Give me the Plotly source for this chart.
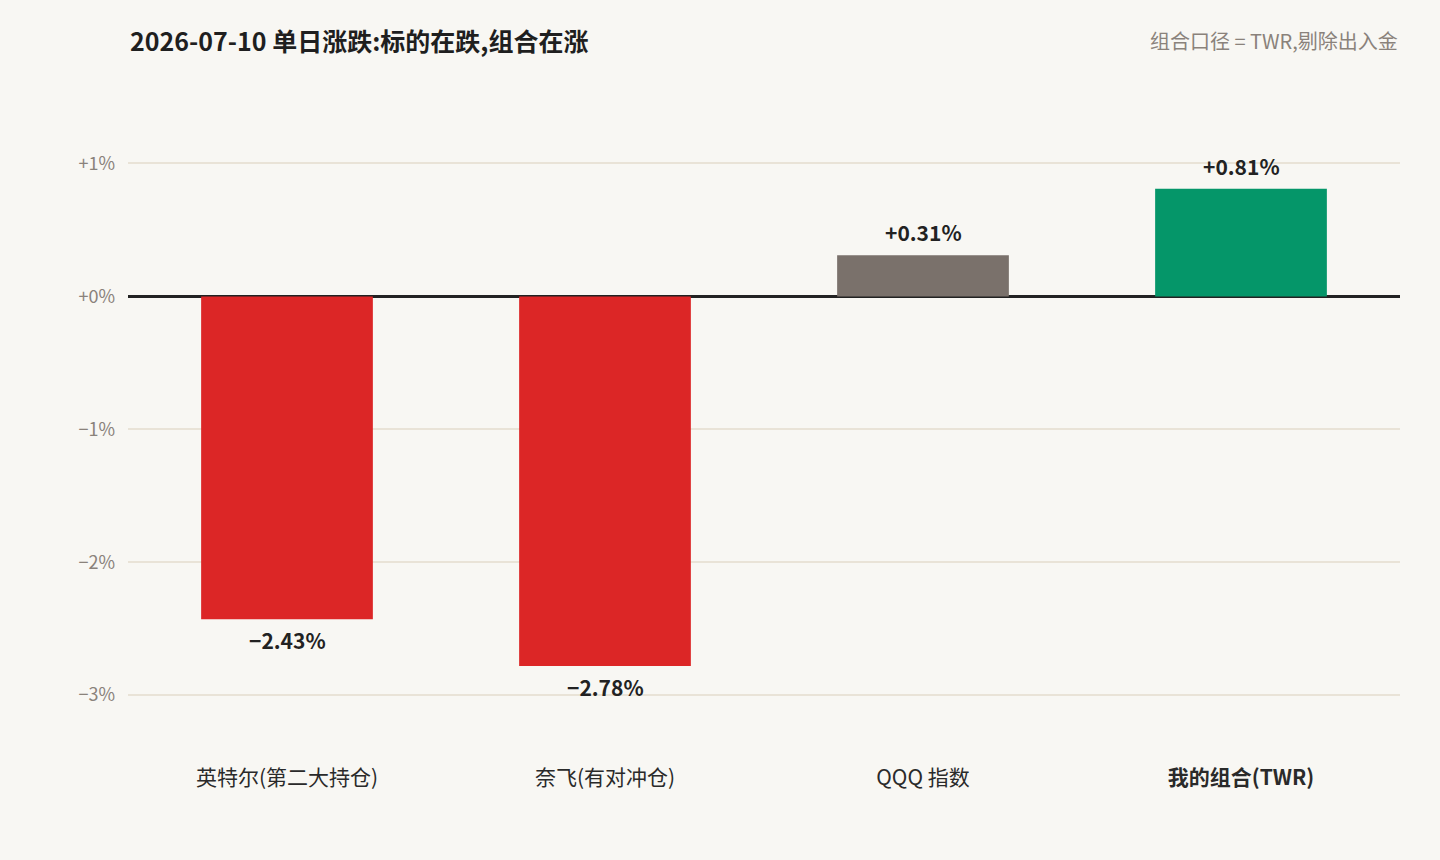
import plotly.graph_objects as go

categories = ["英特尔(第二大持仓)", "奈飞(有对冲仓)", "QQQ 指数", "我的组合(TWR)"]
category_labels = ["英特尔(第二大持仓)", "奈飞(有对冲仓)", "QQQ 指数", "<b>我的组合(TWR)</b>"]
daily_change = [-2.43, -2.78, 0.31, 0.81]
bar_colors = ["#DC2626", "#DC2626", "#7A716B", "#059669"]
y_tick_vals = [1, 0, -1, -2, -3]
y_tick_text = ["+1%", "+0%", "\u22121%", "\u22122%", "\u22123%"]

title_text = "2026-07-10 单日涨跌:标的在跌,组合在涨"
note_text = "组合口径 = TWR,剔除出入金"

def fmt(v):
    s = f"{v:+.2f}%"
    return s.replace("-", "\u2212")

labels = [fmt(v) for v in daily_change]

BG = "#F8F7F3"
FONT = "Noto Sans CJK SC"

fig = go.Figure()
fig.add_trace(go.Bar(
    x=categories,
    y=daily_change,
    marker=dict(color=bar_colors, line=dict(width=0)),
    hoverinfo="skip",
))

value_annotations = [
    dict(x=c, y=v, xref="x", yref="y", text=t, showarrow=False,
         xanchor="center", yanchor="middle",
         yshift=(23 if v >= 0 else -21),
         font=dict(family=FONT, size=21, color="#222222", weight=600))
    for c, v, t in zip(categories, daily_change, labels)
]

fig.update_layout(
    width=1440, height=860,
    paper_bgcolor=BG, plot_bgcolor=BG,
    margin=dict(l=128, r=40, t=97, b=125),
    bargap=0.46,
    showlegend=False,
    font=dict(family=FONT, color="#222222"),
    xaxis=dict(
        tickmode="array", tickvals=categories, ticktext=category_labels,
        tickfont=dict(family=FONT, size=21, color="#2a2a2a"),
        ticks="outside", ticklen=24, tickcolor="rgba(0,0,0,0)",
        showgrid=False, showline=False, zeroline=False,
        fixedrange=True,
    ),
    yaxis=dict(
        range=[-3.3, 1.5],
        tickmode="array", tickvals=y_tick_vals, ticktext=y_tick_text,
        tickfont=dict(family=FONT, size=18, color="#8A827B"),
        showgrid=True, gridcolor="#E9E3D7", gridwidth=1.5,
        zeroline=True, zerolinecolor="#222222", zerolinewidth=2.5,
        showline=False, ticks="", ticklabelstandoff=12,
        fixedrange=True,
    ),
    annotations=value_annotations + [
        dict(text=f"<b>{title_text}</b>", xref="paper", yref="paper",
             x=0, y=1, xanchor="left", yanchor="middle",
             yshift=97 - 40, showarrow=False,
             font=dict(family=FONT, size=25, color="#1f1f1f")),
        dict(text=note_text, xref="paper", yref="paper",
             x=1, y=1, xanchor="right", yanchor="middle",
             yshift=97 - 40, showarrow=False,
             font=dict(family=FONT, size=20, color="#8A827B")),
    ],
)

fig.write_html(
    "out.html",
    config={"displayModeBar": False},
    post_script="document.body.style.margin='0';document.body.style.background='%s';" % BG,
)
